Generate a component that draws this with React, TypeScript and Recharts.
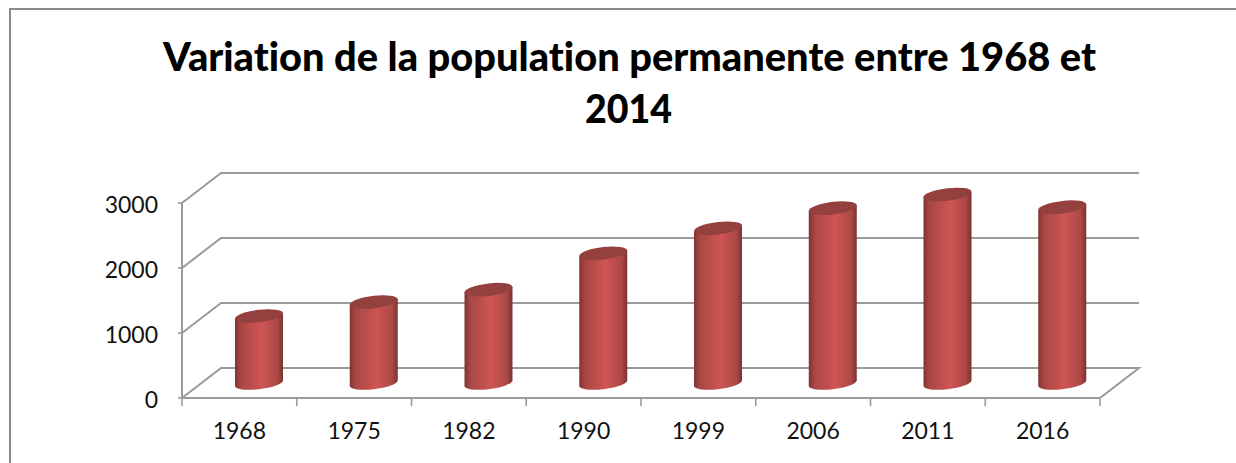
import { BarChart, Bar, XAxis, YAxis, CartesianGrid } from 'recharts'

const years = ['1968', '1975', '1982', '1990', '1999', '2006', '2011', '2016']
const population = [1030, 1245, 1435, 1995, 2380, 2690, 2900, 2705]
const yTicks = [0, 1000, 2000, 3000]

const WIDTH = 1236
const HEIGHT = 463
const AXIS_COLOR = '#9a9a9a'
const FONT = 'Lato, sans-serif'

// fake 3D: back wall sits up and to the right of the front plane
const DEPTH_X = 39
const DEPTH_Y = -30
const BAND = 918 / years.length

const data = years.map((year, i) => ({ year, population: population[i] }))

function WallLine({ x1, x2, y1 }: any) {
  const isFloor = y1 > 390
  const bx = x1 + DEPTH_X
  const ex = x2 + DEPTH_X
  const by = y1 + DEPTH_Y
  const points = `${x1},${y1} ${bx},${by} ${ex},${by}` + (isFloor ? ` ${x2},${y1}` : '')
  return <polyline points={points} fill="none" stroke={AXIS_COLOR} strokeWidth={2} />
}

// cylinders stand halfway into the floor, so they shift by half the depth
function Cylinder({ x, y, width, height }: any) {
  const rx = width / 2
  const ry = 6.3
  const cx = x + rx + 20
  const top = y + DEPTH_Y / 2
  const base = y + height + DEPTH_Y / 2
  return (
    <g transform={`translate(${cx} 0) skewY(-6.5)`}>
      <path
        d={`M${-rx},${top} L${-rx},${base} A${rx},${ry} 0 0 0 ${rx},${base} L${rx},${top} Z`}
        fill="url(#cylinderSide)"
      />
      <ellipse cx={0} cy={top} rx={rx} ry={ry} fill="#94403e" />
    </g>
  )
}

function YearTick({ x, y, payload, index }: any) {
  const left = x - BAND / 2
  return (
    <g>
      <line x1={left} x2={left} y1={398} y2={406} stroke={AXIS_COLOR} strokeWidth={1.6} />
      {index === years.length - 1 && (
        <line x1={x + BAND / 2} x2={x + BAND / 2} y1={398} y2={406} stroke={AXIS_COLOR} strokeWidth={1.6} />
      )}
      <text x={x} y={y + 33} textAnchor="middle" fontFamily={FONT} fontSize={23} fill="#111">
        {payload.value}
      </text>
    </g>
  )
}

const titleStyle = { fontVariantLigatures: 'none' }

export default function App() {
  return (
    <div style={{ position: 'absolute', left: 0, top: 0, width: WIDTH, height: HEIGHT, background: '#fff', overflow: 'hidden' }}>
      <div style={{ position: 'absolute', left: 8.5, top: 8, width: 1240, height: 470, borderLeft: '2.5px solid #8a8a8a', borderTop: '2.5px solid #8a8a8a', boxSizing: 'border-box' }} />
      <BarChart
        width={WIDTH}
        height={HEIGHT}
        data={data}
        margin={{ top: 203, right: 136, bottom: 5, left: 82 }}
        barSize={48}
        style={{ position: 'absolute', left: 0, top: 0 }}
      >
        <defs>
          <linearGradient id="cylinderSide" x1="0" y1="0" x2="1" y2="0">
            <stop offset="0%" stopColor="#7e3331" />
            <stop offset="12%" stopColor="#a84745" />
            <stop offset="55%" stopColor="#cf5553" />
            <stop offset="88%" stopColor="#ac4947" />
            <stop offset="100%" stopColor="#7a3230" />
          </linearGradient>
        </defs>
        <text x={629.5} y={71} textAnchor="middle" fontFamily={FONT} fontWeight={900} fontSize={39} fill="#000" textLength={933} lengthAdjust="spacingAndGlyphs" style={titleStyle}>
          Variation de la population permanente entre 1968 et
        </text>
        <text x={628.5} y={123} textAnchor="middle" fontFamily={FONT} fontWeight={900} fontSize={39} fill="#000" textLength={87} lengthAdjust="spacingAndGlyphs">
          2014
        </text>
        <CartesianGrid vertical={false} horizontal={(props: any) => <WallLine {...props} />} />
        <XAxis
          dataKey="year"
          height={60}
          axisLine={{ stroke: AXIS_COLOR, strokeWidth: 2 }}
          tickLine={false}
          interval={0}
          tick={(props: any) => <YearTick {...props} />}
        />
        <YAxis
          width={100}
          domain={[0, 3000]}
          ticks={yTicks}
          axisLine={{ stroke: AXIS_COLOR, strokeWidth: 2 }}
          tickLine={{ stroke: AXIS_COLOR, strokeWidth: 1.6 }}
          tickSize={4}
          tickMargin={20}
          tick={{ fontFamily: FONT, fontSize: 23, fill: '#111', dy: 2 }}
        />
        <Bar dataKey="population" shape={(props: any) => <Cylinder {...props} />} isAnimationActive={false} />
      </BarChart>
    </div>
  )
}
